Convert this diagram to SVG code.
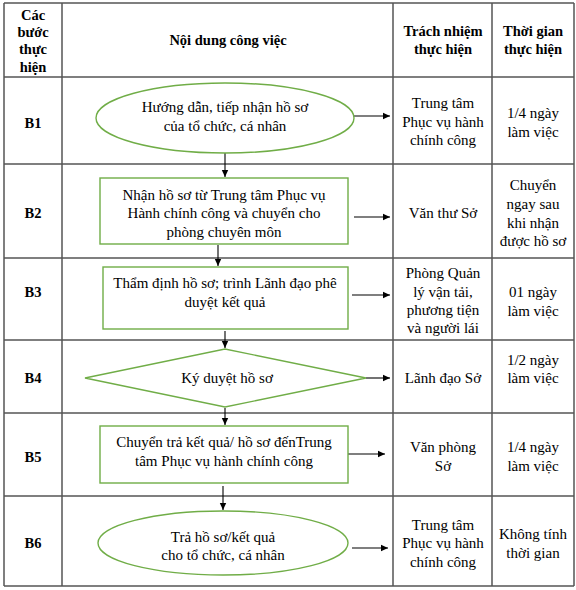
<svg xmlns="http://www.w3.org/2000/svg" width="576" height="590" viewBox="0 0 576 590">
<defs>
<marker id="ah" markerWidth="8" markerHeight="8" refX="7" refY="4" orient="auto" markerUnits="userSpaceOnUse">
<path d="M0,0.8 L7,4 L0,7.2 Z" fill="#000"/>
</marker>
<style>
text{font-family:"Liberation Serif","Times New Roman",serif;font-size:15px;fill:#000;text-anchor:middle}
.b{font-weight:bold;font-size:14.5px}
.grid line{stroke:#555;stroke-width:1.5}
.shape{fill:#fff;stroke:#70ad47;stroke-width:1.4}
.conn line{stroke:#000;stroke-width:1.1;marker-end:url(#ah)}
</style>
</defs>
<rect width="576" height="590" fill="#fff"/>
<g class="grid">
<line x1="4" y1="3" x2="574" y2="3"/>
<line x1="4" y1="77" x2="574" y2="77"/>
<line x1="4" y1="164" x2="574" y2="164"/>
<line x1="4" y1="258" x2="574" y2="258"/>
<line x1="4" y1="340" x2="574" y2="340"/>
<line x1="4" y1="413" x2="574" y2="413"/>
<line x1="4" y1="496" x2="574" y2="496"/>
<line x1="4" y1="586" x2="574" y2="586"/>
<line x1="4" y1="3" x2="4" y2="586"/>
<line x1="62" y1="3" x2="62" y2="586"/>
<line x1="393" y1="3" x2="393" y2="586"/>
<line x1="492" y1="3" x2="492" y2="586"/>
<line x1="574" y1="3" x2="574" y2="586"/>
</g>
<g id="header">
<text class="b" x="33" y="20">Các</text>
<text class="b" x="33" y="37">bước</text>
<text class="b" x="33" y="54">thực</text>
<text class="b" x="33" y="72">hiện</text>
<text class="b" x="228" y="45">Nội dung công việc</text>
<text class="b" x="443" y="36">Trách nhiệm</text>
<text class="b" x="443" y="54">thực hiện</text>
<text class="b" x="533" y="36">Thời gian</text>
<text class="b" x="533" y="54">thực hiện</text>
</g>
<g id="steps">
<text class="b" x="33" y="128">B1</text>
<text class="b" x="33" y="218">B2</text>
<text class="b" x="33" y="297">B3</text>
<text class="b" x="33" y="383">B4</text>
<text class="b" x="33" y="462">B5</text>
<text class="b" x="33" y="548">B6</text>
</g>
<g id="connectors" class="conn">
<line x1="225" y1="153" x2="225" y2="177"/>
<line x1="218" y1="245" x2="218" y2="266"/>
<line x1="225" y1="331" x2="225" y2="348"/>
<line x1="225" y1="408" x2="225" y2="425"/>
<line x1="223" y1="486" x2="223" y2="510"/>
<line x1="354" y1="116" x2="390" y2="116"/>
<line x1="354" y1="217" x2="390" y2="217"/>
<line x1="352" y1="295" x2="390" y2="295"/>
<line x1="366" y1="378" x2="390" y2="378"/>
<line x1="348" y1="454" x2="385" y2="454"/>
<line x1="352" y1="548" x2="388" y2="548"/>
</g>
<g id="n1">
<ellipse class="shape" cx="225" cy="118" rx="129" ry="35"/>
<text x="225" y="112">Hướng dẫn, tiếp nhận hồ sơ</text>
<text x="225" y="131">của tổ chức, cá nhân</text>
</g>
<g id="n2">
<rect class="shape" x="100" y="178" width="248" height="66"/>
<text x="224" y="200">Nhận hồ sơ từ Trung tâm Phục vụ</text>
<text x="224" y="218">Hành chính công và chuyển cho</text>
<text x="224" y="237">phòng chuyên môn</text>
</g>
<g id="n3">
<rect class="shape" x="103" y="267" width="245" height="62"/>
<text x="225" y="288">Thẩm định hồ sơ; trình Lãnh đạo phê</text>
<text x="225" y="307">duyệt kết quả</text>
</g>
<g id="n4">
<polygon class="shape" points="85,378 225,349 366,378 225,407"/>
<text x="227" y="383">Ký duyệt hồ sơ</text>
</g>
<g id="n5">
<rect class="shape" x="100" y="426" width="248" height="57"/>
<text x="224" y="447">Chuyển trả kết quả/ hồ sơ đếnTrung</text>
<text x="224" y="466">tâm Phục vụ hành chính công</text>
</g>
<g id="n6">
<ellipse class="shape" cx="223" cy="543" rx="125" ry="32"/>
<text x="223" y="542">Trả hồ sơ/kết quả</text>
<text x="223" y="560">cho tổ chức, cá nhân</text>
</g>
<g id="resp">
<text x="443" y="108">Trung tâm</text>
<text x="443" y="127">Phục vụ hành</text>
<text x="443" y="145">chính công</text>
<text x="443" y="218">Văn thư Sở</text>
<text x="443" y="278">Phòng Quản</text>
<text x="443" y="297">lý vận tải,</text>
<text x="443" y="315">phương tiện</text>
<text x="443" y="333">và người lái</text>
<text x="443" y="383">Lãnh đạo Sở</text>
<text x="443" y="452">Văn phòng</text>
<text x="443" y="471">Sở</text>
<text x="443" y="530">Trung tâm</text>
<text x="443" y="548">Phục vụ hành</text>
<text x="443" y="567">chính công</text>
</g>
<g id="time">
<text x="533" y="118">1/4 ngày</text>
<text x="533" y="137">làm việc</text>
<text x="533" y="190">Chuyển</text>
<text x="533" y="209">ngay sau</text>
<text x="533" y="228">khi nhận</text>
<text x="533" y="246">được hồ sơ</text>
<text x="533" y="297">01 ngày</text>
<text x="533" y="316">làm việc</text>
<text x="533" y="365">1/2 ngày</text>
<text x="533" y="383">làm việc</text>
<text x="533" y="452">1/4 ngày</text>
<text x="533" y="471">làm việc</text>
<text x="533" y="539">Không tính</text>
<text x="533" y="558">thời gian</text>
</g>
</svg>
